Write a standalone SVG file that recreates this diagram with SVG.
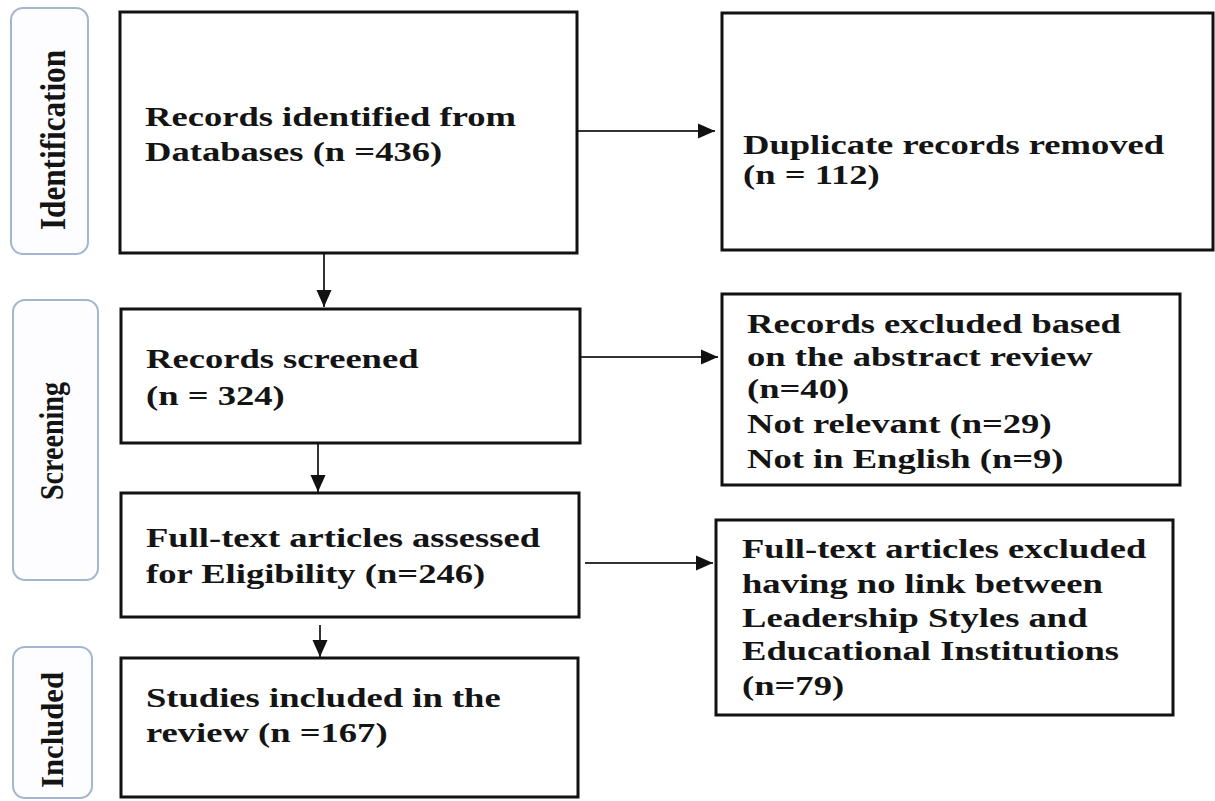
<svg xmlns="http://www.w3.org/2000/svg" width="1215" height="801" viewBox="0 0 1215 801">
<defs>
<style>
.box{fill:#fff;stroke:#111;stroke-width:3}
.phase{fill:#fdfdff;stroke:#a3b6cf;stroke-width:2}
.t{font-family:"Liberation Serif","Times New Roman",serif;font-weight:bold;font-size:27px;fill:#141414}
.pt{font-family:"Liberation Serif","Times New Roman",serif;font-weight:bold;fill:#141414}
.conn{stroke:#333;stroke-width:2;fill:none;marker-end:url(#ah)}
</style>
<marker id="ah" markerUnits="userSpaceOnUse" markerWidth="18" markerHeight="16" refX="17" refY="8" orient="auto">
<path d="M0,0.5 L17,8 L0,15.5 Z" fill="#111"/>
</marker>
</defs>
<rect width="1215" height="801" fill="#fff"/>

<g id="phase-identification">
<rect class="phase" x="11" y="8" width="77" height="246" rx="12"/>
<text class="pt" font-size="36" transform="translate(65,140) rotate(-90)" text-anchor="middle" textLength="180" lengthAdjust="spacingAndGlyphs">Identification</text>
</g>
<g id="phase-screening">
<rect class="phase" x="13" y="300" width="85" height="280" rx="12"/>
<text class="pt" font-size="33" transform="translate(63,441) rotate(-90)" text-anchor="middle" textLength="118" lengthAdjust="spacingAndGlyphs">Screening</text>
</g>
<g id="phase-included">
<rect class="phase" x="13" y="647" width="79" height="151" rx="12"/>
<text class="pt" font-size="32" transform="translate(63,730) rotate(-90)" text-anchor="middle" textLength="116" lengthAdjust="spacingAndGlyphs">Included</text>
</g>

<g id="connectors">
<line class="conn" x1="577" y1="131" x2="715" y2="131"/>
<line class="conn" x1="324" y1="253" x2="324" y2="307"/>
<line class="conn" x1="580" y1="357" x2="718" y2="357"/>
<line class="conn" x1="318" y1="443" x2="318" y2="492"/>
<line class="conn" x1="585" y1="563" x2="713" y2="563"/>
<line class="conn" x1="320" y1="625" x2="320" y2="657"/>
</g>

<g id="records-identified">
<rect class="box" x="120" y="12" width="457" height="241"/>
<text class="t" transform="translate(145,0) scale(1.355,1)"><tspan x="0" y="126">Records identified from</tspan><tspan x="0" y="161">Databases (n =436)</tspan></text>
</g>
<g id="duplicates-removed">
<rect class="box" x="722" y="13" width="491" height="237"/>
<text class="t" transform="translate(743,0) scale(1.355,1)"><tspan x="0" y="154">Duplicate records removed</tspan><tspan x="0" y="184">(n = 112)</tspan></text>
</g>
<g id="records-screened">
<rect class="box" x="121" y="309" width="459" height="134"/>
<text class="t" transform="translate(146,0) scale(1.355,1)"><tspan x="0" y="368">Records screened</tspan><tspan x="0" y="405">(n = 324)</tspan></text>
</g>
<g id="records-excluded">
<rect class="box" x="722" y="294" width="458" height="191"/>
<text class="t" transform="translate(747,0) scale(1.355,1)"><tspan x="0" y="333">Records excluded based</tspan><tspan x="0" y="366">on the abstract review</tspan><tspan x="0" y="398">(n=40)</tspan><tspan x="0" y="433">Not relevant (n=29)</tspan><tspan x="0" y="468">Not in English (n=9)</tspan></text>
</g>
<g id="fulltext-assessed">
<rect class="box" x="121" y="493" width="458" height="124"/>
<text class="t" transform="translate(146,0) scale(1.355,1)"><tspan x="0" y="547">Full-text articles assessed</tspan><tspan x="0" y="583">for Eligibility (n=246)</tspan></text>
</g>
<g id="fulltext-excluded">
<rect class="box" x="716" y="520" width="457" height="195"/>
<text class="t" transform="translate(742,0) scale(1.355,1)"><tspan x="0" y="558">Full-text articles excluded</tspan><tspan x="0" y="593">having no link between</tspan><tspan x="0" y="627">Leadership Styles and</tspan><tspan x="0" y="660">Educational Institutions</tspan><tspan x="0" y="695">(n=79)</tspan></text>
</g>
<g id="studies-included">
<rect class="box" x="121" y="658" width="457" height="139"/>
<text class="t" transform="translate(146,0) scale(1.355,1)"><tspan x="0" y="707">Studies included in the</tspan><tspan x="0" y="742">review (n =167)</tspan></text>
</g>
</svg>
